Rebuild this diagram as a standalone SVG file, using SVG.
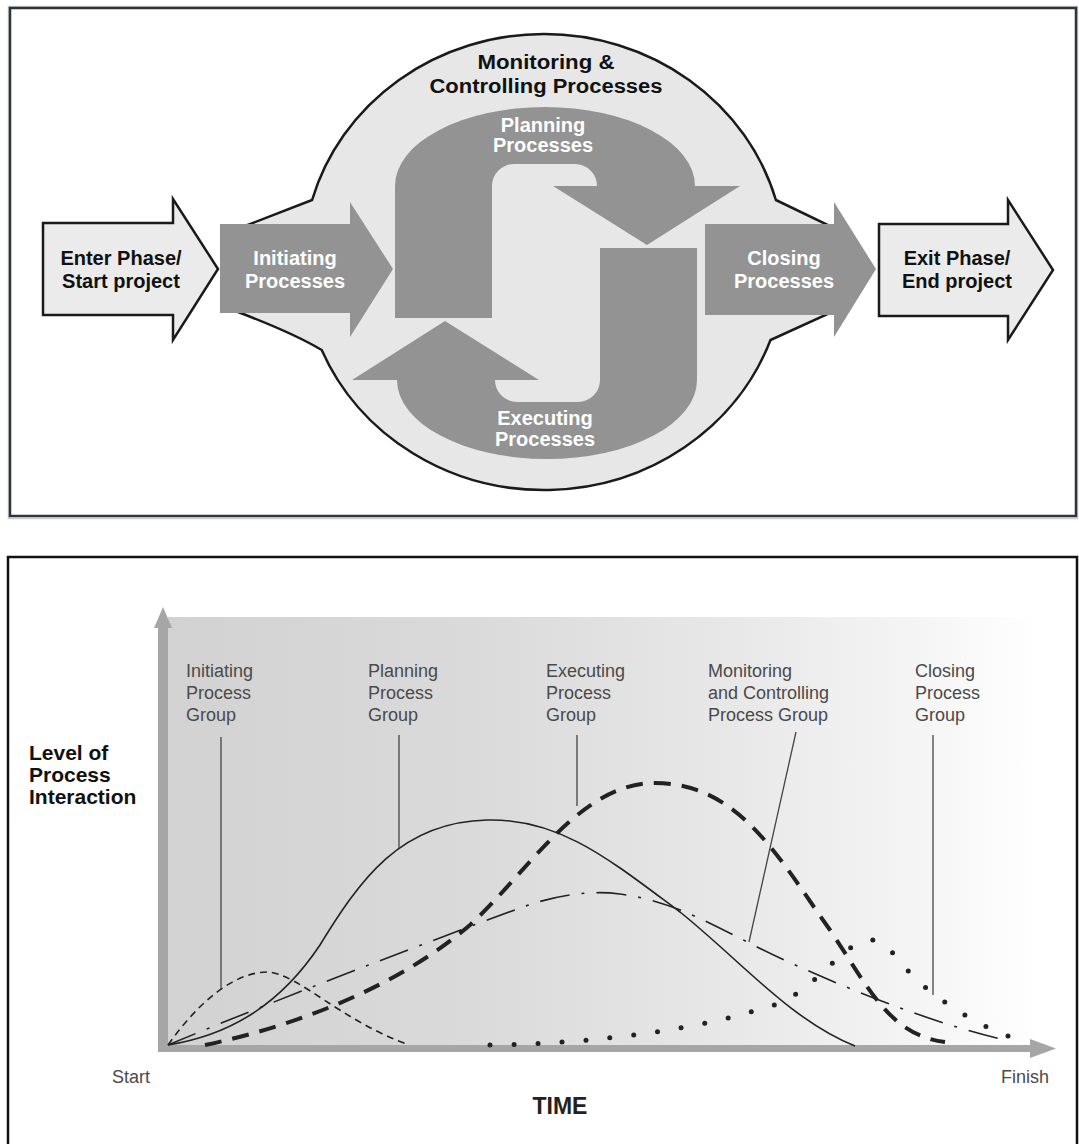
<svg xmlns="http://www.w3.org/2000/svg" width="1079" height="1144" viewBox="0 0 1079 1144">
<defs>
<style>
.bold{font-family:"Liberation Sans",Arial,sans-serif;font-weight:bold;}
.lbl{font-family:"Liberation Sans",Arial,sans-serif;font-size:18px;fill:#4a4a4a;}
.dark{fill:#939393;}
.wtxt{fill:#ffffff;font-size:20px;text-anchor:middle;}
.btxt{fill:#111111;font-size:20px;text-anchor:middle;}
.outl{fill:#ebebeb;stroke:#1a1a1a;stroke-width:2.5;stroke-linejoin:miter;}
.leader{stroke:#444444;stroke-width:1.3;fill:none;}
.curve{fill:none;stroke:#222222;}
</style>
<linearGradient id="bg" x1="0" y1="0" x2="1" y2="0">
<stop offset="0" stop-color="#d2d2d2"/>
<stop offset="0.35" stop-color="#dadada"/>
<stop offset="0.65" stop-color="#e8e8e8"/>
<stop offset="0.85" stop-color="#f4f4f4"/>
<stop offset="1" stop-color="#ffffff"/>
</linearGradient>
</defs>
<rect width="1079" height="1144" fill="#ffffff"/>

<!-- top panel -->
<rect x="8.5" y="6.5" width="1069" height="512" fill="none" stroke="#c3d0df" stroke-width="1.5"/>
<rect x="10" y="8" width="1066" height="508" fill="#ffffff" stroke="#333333" stroke-width="2.5"/>

<g id="node-monitoring">
<path d="M245,226 L312.1,200 A241 228 0 0 1 775.9,200 L830,226 L830,313 L770.5,340 A241 228 0 0 1 321.7,350 C305,340 280,328 238,312 Z" fill="#e7e7e7" stroke="#1a1a1a" stroke-width="2.5"/>
<text class="bold" x="546" y="69" font-size="20" text-anchor="middle" fill="#111" textLength="137" lengthAdjust="spacingAndGlyphs">Monitoring &amp;</text>
<text class="bold" x="546" y="93" font-size="20" text-anchor="middle" fill="#111" textLength="233" lengthAdjust="spacingAndGlyphs">Controlling Processes</text>
</g>

<g id="node-enter">
<path class="outl" d="M43,223 H173 V199 L218,269 L173,340 V315 H43 Z"/>
<text class="bold btxt" x="121" y="265">Enter Phase/</text>
<text class="bold btxt" x="121" y="288">Start project</text>
</g>

<g id="node-initiating">
<path class="dark" d="M220,224 H350 V202 L393,269 L350,337 V313 H220 Z"/>
<text class="bold wtxt" x="295" y="265">Initiating</text>
<text class="bold wtxt" x="295" y="288">Processes</text>
</g>

<g id="node-closing">
<path class="dark" d="M705,224 H834 V202 L876,269 L834,337 V315 H705 Z"/>
<text class="bold wtxt" x="784" y="265">Closing</text>
<text class="bold wtxt" x="784" y="288">Processes</text>
</g>

<g id="node-exit">
<path class="outl" d="M879,224 H1008 V200 L1053,270 L1008,340 V316 H879 Z"/>
<text class="bold btxt" x="957" y="265">Exit Phase/</text>
<text class="bold btxt" x="957" y="288">End project</text>
</g>

<g id="node-planning">
<path class="dark" d="M395,318 V186 A150 79 0 0 1 695,186 H740 L647,245 L553,186 H597 A22 22 0 0 0 575,164 H514 A22 22 0 0 0 492,186 V318 Z"/>
<text class="bold wtxt" x="543" y="132">Planning</text>
<text class="bold wtxt" x="543" y="152">Processes</text>
</g>

<g id="node-executing">
<path class="dark" transform="rotate(180 546 283)" d="M395,318 V186 A150 79 0 0 1 695,186 H740 L647,245 L553,186 H597 A22 22 0 0 0 575,164 H514 A22 22 0 0 0 492,186 V318 Z"/>
<text class="bold wtxt" x="545" y="425">Executing</text>
<text class="bold wtxt" x="545" y="446">Processes</text>
</g>

<!-- bottom panel -->
<rect x="8" y="557" width="1069" height="600" fill="#ffffff" stroke="#111111" stroke-width="2.5"/>

<g id="chart-area">
<rect x="168" y="617" width="872" height="428" fill="url(#bg)"/>
<rect x="158" y="626" width="10" height="426" fill="#a6a6a6"/>
<polygon points="154,628 172,628 163,607" fill="#a6a6a6"/>
<rect x="158" y="1045" width="874" height="7" fill="#a6a6a6"/>
<polygon points="1030,1039 1056,1048.5 1030,1058" fill="#a6a6a6"/>
</g>

<g id="axis-labels">
<text class="bold" x="29" y="760" font-size="21" fill="#111">Level of</text>
<text class="bold" x="29" y="782" font-size="21" fill="#111">Process</text>
<text class="bold" x="29" y="804" font-size="21" fill="#111">Interaction</text>
<text class="lbl" x="112" y="1083">Start</text>
<text class="lbl" x="1001" y="1083">Finish</text>
<text class="bold" x="560" y="1114" font-size="23" text-anchor="middle" fill="#222">TIME</text>
</g>

<g id="node-initiating-group">
<text class="lbl" x="186" y="677">Initiating</text>
<text class="lbl" x="186" y="699">Process</text>
<text class="lbl" x="186" y="721">Group</text>
<path class="curve" stroke-width="1.6" stroke-dasharray="7 5" d="M168,1045 C200,1000 235,972 268,972 C300,975 340,1020 409,1045"/>
</g>

<g id="node-planning-group">
<text class="lbl" x="368" y="677">Planning</text>
<text class="lbl" x="368" y="699">Process</text>
<text class="lbl" x="368" y="721">Group</text>
<path class="curve" stroke-width="1.6" d="M168,1045 C230,1035 280,1005 320,945 C360,880 400,822 487,820 C560,818 610,860 680,912 C740,960 790,1020 855,1046"/>
</g>

<g id="node-executing-group">
<text class="lbl" x="546" y="677">Executing</text>
<text class="lbl" x="546" y="699">Process</text>
<text class="lbl" x="546" y="721">Group</text>
<path class="curve" stroke-width="4" stroke-dasharray="17 11" d="M205,1045 C300,1025 400,985 470,925 C530,870 580,783 655,783 C740,783 780,860 830,930 C870,990 890,1035 945,1042"/>
</g>

<g id="node-monitoring-group">
<text class="lbl" x="708" y="677">Monitoring</text>
<text class="lbl" x="708" y="699">and Controlling</text>
<text class="lbl" x="708" y="721">Process Group</text>
<path class="curve" stroke-width="1.6" stroke-dasharray="30 12 3 12" d="M168,1045 C300,990 460,930 520,908 C555,895 590,890 620,894 C680,902 720,930 780,958 C860,995 940,1025 1005,1040"/>
</g>

<g id="node-closing-group">
<text class="lbl" x="915" y="677">Closing</text>
<text class="lbl" x="915" y="699">Process</text>
<text class="lbl" x="915" y="721">Group</text>
<path class="curve" stroke-width="5" stroke-linecap="round" stroke-dasharray="0 24" d="M490,1045 C600,1043 700,1030 780,1003 C820,985 845,940 871,940 C888,940 900,965 920,983 C950,1008 985,1030 1028,1043"/>
</g>

<g id="connectors">
<line class="leader" x1="221" y1="737" x2="221" y2="989"/>
<line class="leader" x1="399" y1="735" x2="399" y2="848"/>
<line class="leader" x1="577" y1="735" x2="577" y2="806"/>
<line class="leader" x1="796" y1="732" x2="749" y2="942"/>
<line class="leader" x1="933" y1="735" x2="933" y2="995"/>
</g>
</svg>
